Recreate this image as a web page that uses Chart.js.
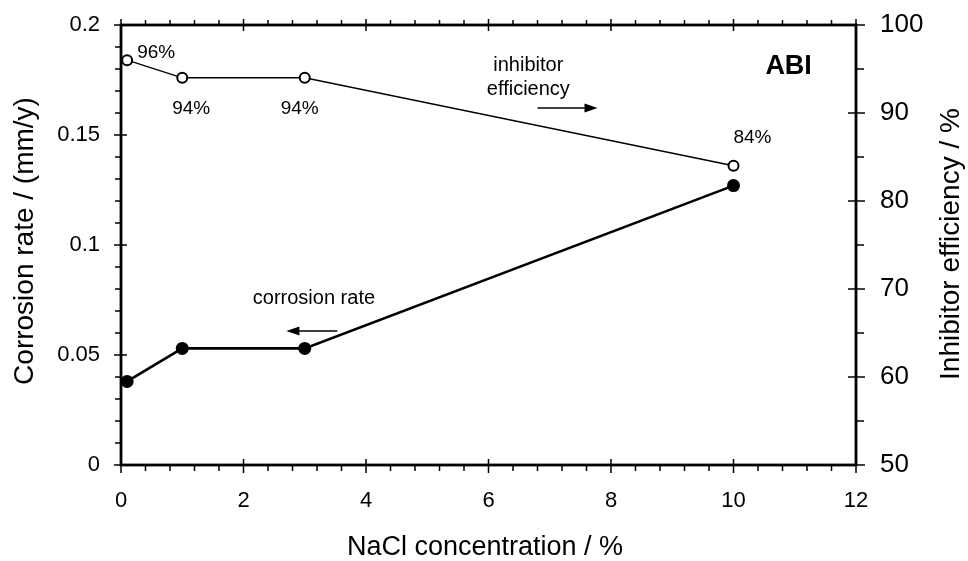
<!DOCTYPE html>
<html>
<head>
<meta charset="utf-8">
<script src="https://cdn.jsdelivr.net/npm/chart.js@4/dist/chart.umd.min.js"></script>
<style>
  html, body { margin: 0; padding: 0; background: #ffffff; }
  #wrap { width: 968px; height: 561px; }
</style>
</head>
<body>
<div id="wrap"><canvas id="chart" width="968" height="561"></canvas></div>
<script>
// NaCl concentration (%) and the two measured quantities
const naclConcentration = [0.1, 1, 3, 10];
const corrosionRate = [0.038, 0.053, 0.053, 0.127];      // mm/y, left axis
const inhibitorEfficiency = [96, 94, 94, 84];             // %, right axis

// axis ticks
const xMajorTicks = [0, 2, 4, 6, 8, 10, 12];
const leftMajorTicks = [0, 0.05, 0.1, 0.15, 0.2];
const leftTickLabels = ['0', '0.05', '0.1', '0.15', '0.2'];
const rightMajorTicks = [50, 60, 70, 80, 90, 100];
const rightTickLabels = ['50', '60', '70', '80', '90', '100'];

const FONT = '"Liberation Sans", Arial, Helvetica, sans-serif';

// label placement around the efficiency points (pixels)
const effLabelOffsets = [
  { dx: 10, dy: -7, align: 'left' },
  { dx: 9, dy: 31, align: 'center' },
  { dx: -5, dy: 31, align: 'center' },
  { dx: 19, dy: -28, align: 'center' }
];

function seq(a, b, step) {
  const out = [];
  const n = Math.round((b - a) / step);
  for (let i = 0; i <= n; i++) out.push(+(a + i * step).toFixed(6));
  return out;
}

const frameAndText = {
  id: 'frameAndText',
  afterDatasetsDraw(chart) {
    const ctx = chart.ctx;
    const xs = chart.scales.x, yl = chart.scales.y, yr = chart.scales.y2;
    const a = chart.chartArea;
    ctx.save();
    ctx.strokeStyle = '#000';
    ctx.fillStyle = '#000';

    // frame
    ctx.lineWidth = 2.8;
    ctx.strokeRect(a.left, a.top, a.right - a.left, a.bottom - a.top);

    // ticks
    ctx.lineWidth = 1.5;
    const line = (x1, y1, x2, y2) => { ctx.beginPath(); ctx.moveTo(x1, y1); ctx.lineTo(x2, y2); ctx.stroke(); };
    seq(0, 12, 0.4).forEach(v => {
      const px = xs.getPixelForValue(v);
      const major = Math.abs(v / 2 - Math.round(v / 2)) < 1e-6;
      if (major) {
        line(px, a.bottom - 6, px, a.bottom + 8);
        line(px, a.top - 6, px, a.top + 6);
      } else {
        line(px, a.bottom, px, a.bottom + 6);
        line(px, a.top, px, a.top - 5);
      }
    });
    seq(0, 0.2, 0.01).forEach(v => {
      const py = yl.getPixelForValue(v);
      const major = Math.abs(v / 0.05 - Math.round(v / 0.05)) < 1e-6;
      if (major) line(a.left - 7, py, a.left + 6, py);
      else line(a.left - 6, py, a.left, py);
    });
    seq(50, 100, 5).forEach(v => {
      const py = yr.getPixelForValue(v);
      if (v % 10 === 0) line(a.right - 8, py, a.right + 9, py);
      else line(a.right, py, a.right + 8, py);
    });

    // tick labels
    ctx.textBaseline = 'middle';
    ctx.font = '22px ' + FONT;
    ctx.textAlign = 'center';
    xMajorTicks.forEach(v => ctx.fillText(String(v), xs.getPixelForValue(v), a.bottom + 36));
    ctx.font = '22px ' + FONT;
    ctx.textAlign = 'right';
    leftMajorTicks.forEach((v, i) => ctx.fillText(leftTickLabels[i], a.left - 21, yl.getPixelForValue(v)));
    ctx.font = '26px ' + FONT;
    ctx.textAlign = 'left';
    rightMajorTicks.forEach((v, i) => ctx.fillText(rightTickLabels[i], a.right + 24, yr.getPixelForValue(v)));

    // axis titles
    ctx.font = '27px ' + FONT;
    ctx.textAlign = 'center';
    ctx.fillText('NaCl concentration / %', 485, 548);
    ctx.font = '28px ' + FONT;
    ctx.save();
    ctx.translate(25, 241);
    ctx.rotate(-Math.PI / 2);
    ctx.fillText('Corrosion rate / (mm/y)', 0, 0);
    ctx.restore();
    ctx.save();
    ctx.translate(951, 244);
    ctx.rotate(-Math.PI / 2);
    ctx.fillText('Inhibitor efficiency / %', 0, 0);
    ctx.restore();

    // efficiency value labels
    ctx.font = '19px ' + FONT;
    inhibitorEfficiency.forEach((v, i) => {
      const o = effLabelOffsets[i];
      ctx.textAlign = o.align;
      ctx.fillText(v + '%', xs.getPixelForValue(naclConcentration[i]) + o.dx, yr.getPixelForValue(v) + o.dy);
    });

    // panel label and series notes
    ctx.font = 'bold 27px ' + FONT;
    ctx.textAlign = 'center';
    ctx.fillText('ABI', xs.getPixelForValue(10.9), yl.getPixelForValue(0.181));
    ctx.font = '20px ' + FONT;
    ctx.fillText('inhibitor', xs.getPixelForValue(6.65), yl.getPixelForValue(0.1818));
    ctx.fillText('efficiency', xs.getPixelForValue(6.65), yl.getPixelForValue(0.1705));
    ctx.fillText('corrosion rate', xs.getPixelForValue(3.15), yl.getPixelForValue(0.0759));

    const arrow = (x1, x2, y) => {
      const px1 = xs.getPixelForValue(x1), px2 = xs.getPixelForValue(x2), py = yl.getPixelForValue(y);
      const dir = Math.sign(px2 - px1);
      ctx.lineWidth = 1.5;
      line(px1, py, px2 - dir * 10, py);
      ctx.beginPath();
      ctx.moveTo(px2, py);
      ctx.lineTo(px2 - dir * 13, py - 4.5);
      ctx.lineTo(px2 - dir * 13, py + 4.5);
      ctx.closePath();
      ctx.fill();
    };
    arrow(6.8, 7.78, 0.1623);
    arrow(3.53, 2.7, 0.0609);

    ctx.restore();
  }
};

new Chart(document.getElementById('chart'), {
  type: 'line',
  data: {
    datasets: [
      {
        label: 'corrosion rate',
        data: naclConcentration.map((x, i) => ({ x, y: corrosionRate[i] })),
        yAxisID: 'y',
        borderColor: '#000',
        borderWidth: 2.6,
        pointRadius: 6.5,
        pointBackgroundColor: '#000',
        pointBorderColor: '#000',
        pointBorderWidth: 0,
        tension: 0,
        clip: false
      },
      {
        label: 'inhibitor efficiency',
        data: naclConcentration.map((x, i) => ({ x, y: inhibitorEfficiency[i] })),
        yAxisID: 'y2',
        borderColor: '#000',
        borderWidth: 1.4,
        pointRadius: 5,
        pointBackgroundColor: '#fff',
        pointBorderColor: '#000',
        pointBorderWidth: 2,
        tension: 0,
        clip: false
      }
    ]
  },
  options: {
    responsive: false,
    animation: false,
    devicePixelRatio: 1,
    layout: { padding: { left: 121, right: 112, top: 25, bottom: 96 } },
    plugins: { legend: { display: false }, tooltip: { enabled: false } },
    scales: {
      x: { type: 'linear', min: 0, max: 12, display: false },
      y: { type: 'linear', position: 'left', min: 0, max: 0.2, display: false },
      y2: { type: 'linear', position: 'right', min: 50, max: 100, display: false }
    }
  },
  plugins: [frameAndText]
});
</script>
</body>
</html>
